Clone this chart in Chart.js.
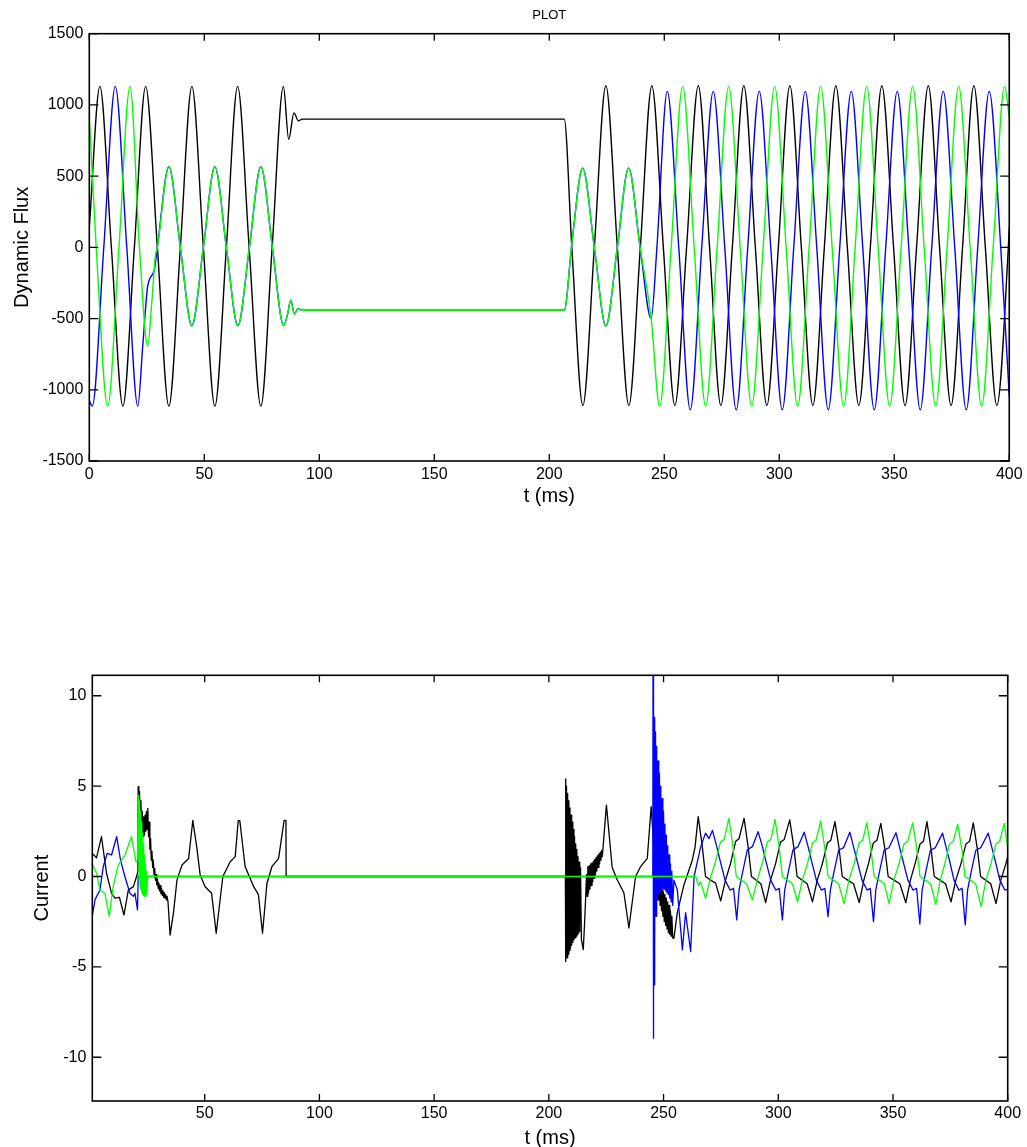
<!DOCTYPE html>
<html><head><meta charset="utf-8">
<script src="https://cdn.jsdelivr.net/npm/chart.js@4/dist/chart.umd.min.js"></script>
<style>
html,body{margin:0;padding:0;background:#fff;}
body{width:1027px;height:1147px;position:relative;overflow:hidden;}
canvas{position:absolute;left:0;}
#flux{top:0;}
#cur{top:640px;}
</style></head><body>
<canvas id="flux" width="1027" height="520" style="width:1027px;height:520px"></canvas>
<canvas id="cur" width="1027" height="512" style="width:1027px;height:512px"></canvas>
<script>
// ---------- texts & ticks ----------
const fluxTitle = 'PLOT';
const fluxYLabel = 'Dynamic Flux';
const curYLabel = 'Current';
const timeLabel = 't (ms)';
const fluxXTicks = [0, 50, 100, 150, 200, 250, 300, 350, 400];
const fluxYTicks = [-1500, -1000, -500, 0, 500, 1000, 1500];
const curXTicks = [50, 100, 150, 200, 250, 300, 350, 400];
const curYTicks = [-10, -5, 0, 5, 10];

// ---------- Dynamic flux (t ms, value) ----------
const fluxBlack = [
[0,140],[4.6,1130],[9.6,0],[14.6,-1115],[19.6,0],[24.5,1130],[29.6,0],[34.6,-1115],[39.6,0],[44.6,1130],[49.6,0],[54.6,-1115],[59.6,0],[64.5,1130],[69.5,0],[74.6,-1115],[79.5,0],[84.4,1130],[86.7,758],[89.0,944],[90.9,888],[92.6,900],[206.5,900],[209.8,0],[214.6,-1110],[219.6,0],[224.6,1135],[229.6,0],[234.6,-1110],[239.6,0],[244.6,1135],[249.6,0],[254.6,-1110],[259.7,0],[264.8,1135],[269.7,0],[274.6,-1110],[279.6,0],[284.6,1135],[289.6,0],[294.6,-1110],[299.6,0],[304.6,1135],[309.6,0],[314.6,-1110],[319.6,0],[324.6,1135],[329.6,0],[334.6,-1110],[339.6,0],[344.6,1135],[349.7,0],[354.7,-1110],[359.7,0],[364.8,1135],[369.7,0],[374.7,-1110],[379.7,0],[384.6,1135],[389.6,0],[394.6,-1110],[399.6,0],[400,140]
];
const fluxBlueStart = [
[0,-1075],[1.3,-1115],[6.3,0],[11.3,1130],[16.3,0],[21.1,-1115],[23.2,-700],[25.4,-273],[28.3,-157]
];
const fluxGreenStart = [
[0,915],[3.0,0],[8.0,-1115],[12.9,0],[17.7,1130],[21.8,0],[25.4,-692],[27.2,-380],[28.7,-63]
];
const fluxBlueGreenShared = [
[29.6,0],[34.6,567],[39.6,0],[44.6,-550],[49.6,0],[54.6,567],[59.6,0],[64.6,-550],[69.6,0],[74.6,567],[79.6,0],[84.5,-550],[86.2,-470],[87.6,-371],[89.2,-468],[90.8,-430],[92.6,-442],[206.5,-442],[209.9,40],[214.5,558],[219.6,0],[224.6,-552],[229.6,0],[234.5,558],[239.5,0],[244.3,-500]
];
const fluxBlueEnd = [
[246.8,0],[251.3,1095],[256.3,0],[261.3,-1140],[266.3,0],[271.3,1095],[276.3,0],[281.3,-1140],[286.3,0],[291.3,1095],[296.3,0],[301.3,-1140],[306.3,0],[311.3,1095],[316.3,0],[321.3,-1140],[326.3,0],[331.3,1095],[336.3,0],[341.3,-1140],[346.3,0],[351.3,1095],[356.3,0],[361.3,-1140],[366.3,0],[371.3,1095],[376.3,0],[381.3,-1140],[386.3,0],[391.3,1095],[396.3,0],[400,-1045]
];
const fluxGreenEnd = [
[248.0,-1115],[253.0,0],[258.0,1130],[263.0,0],[268.0,-1115],[273.0,0],[278.0,1130],[283.0,0],[288.0,-1115],[293.0,0],[298.0,1130],[303.0,0],[308.0,-1115],[313.0,0],[318.0,1130],[323.0,0],[328.0,-1115],[333.0,0],[338.0,1130],[343.0,0],[348.0,-1115],[353.0,0],[358.0,1130],[363.0,0],[368.0,-1115],[373.0,0],[378.0,1130],[383.0,0],[388.0,-1115],[393.0,0],[398.0,1130],[400,915]
];

// ---------- Current (t ms, value) ----------
const curBlack = [
[1,1.28],[2.85,1.04],[5.0,2.2],[7.2,0.18],[9.4,-0.93],[10.9,-1.2],[12.8,-1.15],[14.8,-2.13],[16.7,-0.75],[18.9,-0.56],[20.3,0],[20.9,0.3],
[21.0,4.97],[21.3,2.5],[21.6,4.7],[21.9,2.4],[22.2,4.2],[22.5,2.3],[22.8,3.6],[23.1,2.2],[23.4,3.3],[23.7,2.3],[24.0,3.4],[24.3,2.5],[24.6,3.6],[24.9,2.6],[25.2,3.77],[25.5,2.2],[25.8,3.0],[26.1,1.5],[26.4,2.1],[26.7,0.9],[27.0,1.4],[27.3,0.5],[27.6,0.9],[27.9,0.1],[28.2,0.45],[28.5,-0.2],[28.8,0.1],[29.1,-0.45],[29.4,-0.15],[29.7,-0.65],[30.0,-0.35],[30.3,-0.8],[30.6,-0.5],[30.9,-0.95],[31.2,-0.65],[31.5,-1.05],[31.8,-0.8],[32.1,-1.15],[32.4,-0.9],[32.7,-1.2],[33.0,-1.0],[33.3,-1.3],[33.6,-1.1],[34.0,-1.4],
[34.9,-3.24],[36.4,-2.0],[37.9,-0.2],[40.1,0.64],[43.0,1.0],[44.8,3.1],[46.5,1.65],[48.0,0.1],[50.1,-0.55],[53.0,-0.93],[55.0,-3.14],[57.9,0],[61.1,0.82],[63.3,1.1],[64.6,3.09],[65.3,3.09],[67.6,0.55],[71.3,-0.55],[73.4,-1.0],[75.2,-3.14],[77.1,-0.4],[79.3,0.55],[82.2,1.0],[84.6,3.1],[85.4,3.1],[85.5,0],[207.2,0],
[207.25,5.4],[207.45,-4.7],[207.7,5.0],[207.95,-4.5],[208.2,4.6],[208.45,-4.3],[208.7,4.2],[208.95,-4.1],[209.2,3.8],[209.45,-3.95],[209.7,3.4],[209.95,-3.8],[210.2,3.0],[210.45,-3.65],[210.7,2.6],[210.95,-3.5],[211.2,2.2],[211.45,-3.4],[211.7,1.8],[211.95,-3.3],[212.2,1.5],[212.45,-3.2],[212.7,1.1],[212.95,-3.1],[213.2,0.8],[213.45,-3.05],[213.8,0.5],[214.2,-3.5],[215.0,-4.04],[215.6,-2.5],
[216.0,-1.3],[216.4,0.1],[216.7,-1.1],[217.0,0.54],[217.3,-0.9],[217.6,0.6],[217.9,-0.7],[218.2,0.7],[218.5,-0.5],[218.8,0.75],[219.1,-0.3],[219.4,0.85],[219.7,-0.1],[220.0,0.95],[220.3,0.1],[220.6,1.05],[220.9,0.3],[221.2,1.15],[221.5,0.5],[221.8,1.25],[222.1,0.7],[222.4,1.35],[222.7,0.9],[223.0,1.45],[223.3,1.1],
[225.1,3.95],[227.6,0.5],[229.8,-0.18],[232.7,-0.9],[234.9,-2.85],[237.8,0],[240.0,0.55],[242.9,1.0],[244.6,3.86],[246.0,1.2],[247.0,-0.3],
[247.3,-1.0],[247.6,-0.4],[247.9,-1.3],[248.2,-0.5],[248.5,-1.6],[248.8,-0.6],[249.1,-1.9],[249.4,-0.75],[249.7,-2.2],[250.0,-0.9],[250.3,-2.5],[250.6,-1.0],[250.9,-2.7],[251.2,-1.2],[251.5,-2.9],[251.8,-1.4],[252.1,-3.1],[252.4,-1.6],[252.7,-3.2],[253.0,-1.9],[253.3,-3.3],[253.6,-2.2],[254.0,-3.4],[254.5,-3.43],[256.0,-2.0],[257.5,-1.2],[258.8,-0.5],[260.4,0.1],[262.5,0.9],[263.7,1.6],
[265.1,3.31],[266.9,1.65],[268.3,0.0],[270.5,-0.2],[272.7,-0.37],[274.9,-1.35],[277.0,-0.2],[279.2,0.72],[281.4,1.93],[282.9,2.1],
[285.1,3.22],[286.9,1.6],[288.3,0.0],[290.3,-0.2],[292.4,-0.4],[294.5,-1.45],[296.6,-0.2],[298.8,0.7],[301.0,1.9],[302.6,2.05],
[305.0,3.13],[306.8,1.6],[308.2,0.0],[310.4,-0.2],[312.6,-0.4],[314.9,-1.4],[317.0,-0.2],[319.2,0.7],[321.4,1.85],[322.9,2.0],
[324.7,3.03],[326.5,1.55],[327.9,0.0],[330.3,-0.2],[332.8,-0.4],[335.3,-1.45],[337.3,-0.2],[339.3,0.7],[341.4,1.85],[343.0,2.0],
[344.7,2.94],[346.5,1.5],[347.9,0.0],[350.4,-0.2],[353.0,-0.4],[355.6,-1.45],[357.6,-0.2],[359.6,0.7],[361.8,1.8],[363.3,1.95],
[364.8,3.03],[366.6,1.5],[368.0,0.0],[370.4,-0.2],[372.9,-0.4],[375.3,-1.4],[377.4,-0.2],[379.6,0.7],[381.8,1.8],[383.4,1.95],
[385.0,2.97],[386.8,1.5],[388.2,0.0],[390.4,-0.2],[392.6,-0.4],[394.9,-1.5],[397.0,-0.2],[399.2,0.7],[400,1.1]
];
const curBlue = [
[1,-2.2],[2.2,-1.28],[4.3,-0.75],[5.8,0.55],[7.5,1.28],[9.4,1.19],[11.6,2.2],[13.3,0.92],[15.2,0],[17.4,-0.93],[18.9,-1.1],[19.6,-0.93],[20.7,-1.85],[21.0,0],[245.3,0],
[245.4,11.1],[245.55,-8.95],[245.7,9.6],[245.85,-6.0],[246.0,8.8],[246.25,-3.8],[246.5,8.0],[246.75,-2.2],[247.0,7.2],[247.3,-1.3],[247.6,6.4],[247.9,-1.0],[248.2,5.7],[248.5,-0.8],[248.8,5.0],[249.1,-0.7],[249.4,4.3],[249.7,-0.7],[250.0,3.6],[250.3,-0.7],[250.6,2.9],[250.9,-0.8],[251.2,2.3],[251.5,-0.9],[251.8,1.7],[252.1,-1.0],[252.4,1.2],[252.7,-1.2],[253.0,0.7],[253.3,-1.4],[253.6,0.3],[254.0,-1.6],[254.5,-0.2],
[256.0,-0.75],[258.2,-4.06],[259.6,-2.0],[261.8,-4.15],[263.3,0],[266.2,1.65],[268.3,2.4],[269.8,2.1],[271.3,2.55],[273.2,1.65],[274.6,0.9],[276.8,-0.2],[279.0,-0.75],[280.5,-0.66],[281.9,-2.4],
[282.9,-0.75],[284.4,0.2],[286.5,1.47],[288.7,1.65],[291.2,2.48],[293.1,1.65],[294.5,0.9],[296.7,-0.2],[298.9,-0.75],[300.4,-0.66],[301.8,-2.4],
[302.8,-0.75],[304.3,0.2],[306.4,1.47],[308.6,1.65],[311.3,2.45],[313.0,1.65],[314.4,0.9],[316.6,-0.2],[318.8,-0.75],[320.3,-0.66],[321.7,-2.22],
[322.7,-0.75],[324.2,0.2],[326.3,1.45],[328.5,1.6],[331.2,2.45],[332.9,1.6],[334.3,0.9],[336.5,-0.2],[338.7,-0.75],[340.1,-0.66],[341.5,-2.5],
[342.5,-0.75],[344.0,0.2],[346.1,1.45],[348.3,1.6],[351.3,2.42],[352.9,1.6],[354.3,0.9],[356.5,-0.2],[358.7,-0.75],[360.3,-0.66],[361.7,-2.63],
[362.7,-0.75],[364.2,0.2],[366.3,1.45],[368.5,1.6],[371.6,2.4],[373.2,1.6],[374.6,0.9],[376.6,-0.2],[378.7,-0.75],[380.1,-0.66],[381.5,-2.68],
[382.5,-0.75],[384.0,0.2],[386.1,1.45],[388.3,1.6],[391.5,2.4],[393.1,1.6],[394.5,0.9],[396.6,-0.2],[398.7,-0.75],[400,-0.7]
];
const curGreen = [
[1,0.69],[2.9,0.18],[4.3,-0.75],[6.5,-0.93],[8.4,-2.2],[10.1,-0.56],[12.3,0.64],[15.2,1.17],[18.1,2.2],[20.0,0.82],[20.7,0.9],
[21.2,4.5],[21.4,-0.2],[21.6,4.2],[21.8,-0.5],[22.0,3.6],[22.2,-0.7],[22.4,3.0],[22.6,-0.9],[22.8,2.4],[23.0,-1.0],[23.2,1.8],[23.4,-1.05],[23.6,1.2],[23.8,-1.1],[24.0,0.7],[24.2,-1.1],[24.5,0.3],[24.8,-1.0],[25.1,0],[264.0,0],
[265.2,-0.5],[266.2,-0.3],[268.3,-1.21],[270.4,-0.1],[272.6,0.8],[274.8,1.9],[276.4,2.05],[278.5,3.22],
[280.3,1.6],[281.7,0.0],[283.9,-0.2],[286.2,-0.4],[288.7,-1.3],[290.8,-0.2],[293.0,0.72],[295.2,1.9],[296.8,2.05],[298.6,3.16],
[300.4,1.6],[301.8,0.0],[304.0,-0.2],[306.2,-0.4],[308.4,-1.4],[310.5,-0.2],[312.7,0.7],[314.9,1.85],[316.5,2.0],[318.5,3.07],
[320.3,1.55],[321.7,0.0],[324.0,-0.2],[326.3,-0.4],[328.7,-1.5],[330.8,-0.2],[333.0,0.7],[335.2,1.85],[336.8,2.0],[338.6,2.97],
[340.4,1.5],[341.8,0.0],[344.0,-0.2],[346.2,-0.4],[348.3,-1.5],[350.4,-0.2],[352.6,0.7],[354.8,1.8],[356.4,1.95],[358.6,2.97],
[360.4,1.5],[361.8,0.0],[364.1,-0.2],[366.4,-0.4],[368.7,-1.55],[370.6,-0.2],[372.6,0.7],[374.6,1.8],[376.3,1.95],[378.2,2.9],
[380.0,1.5],[381.4,0.0],[383.7,-0.2],[386.0,-0.4],[388.4,-1.67],[390.5,-0.2],[392.7,0.7],[394.9,1.8],[396.5,1.95],[398.5,2.94],[400,1.6]
];

// ---------- styling ----------
const FONT = "'Liberation Sans', Arial, Helvetica, sans-serif";
const BLACK = '#000000', BLUE = '#0000ff', GREEN = '#00ff00';

const fluxBlue = [...fluxBlueStart, ...fluxBlueGreenShared, ...fluxBlueEnd];
const fluxGreen = [...fluxGreenStart, ...fluxBlueGreenShared, ...fluxGreenEnd];
const toXY = arr => arr.map(p => ({x: p[0], y: p[1]}));

const frameTicks = {
  id: 'frameTicks',
  afterDatasetsDraw(chart) {
    const {ctx, chartArea: a} = chart;
    const xs = chart.scales.x, ys = chart.scales.y;
    ctx.save();
    ctx.strokeStyle = '#000';
    ctx.lineWidth = 1.3;
    ctx.beginPath();
    xs.ticks.forEach(t => {
      const p = xs.getPixelForValue(t.value);
      ctx.moveTo(p, a.bottom); ctx.lineTo(p, a.bottom - 7);
      ctx.moveTo(p, a.top); ctx.lineTo(p, a.top + 7);
    });
    ys.ticks.forEach(t => {
      const p = ys.getPixelForValue(t.value);
      ctx.moveTo(a.left, p); ctx.lineTo(a.left + 9, p);
      ctx.moveTo(a.right, p); ctx.lineTo(a.right - 9, p);
    });
    ctx.stroke();
    ctx.lineWidth = 1.6;
    ctx.strokeRect(a.left, a.top, a.right - a.left, a.bottom - a.top);
    ctx.restore();
  }
};

function makeChart(id, g) {
  const tickFont = {family: FONT, size: 16};
  const titleFont = {family: FONT, size: 20};
  return new Chart(document.getElementById(id), {
    type: 'line',
    data: {datasets: g.series.map(s => ({
      label: s.label, data: toXY(s.data), borderColor: s.color, backgroundColor: s.color,
      borderWidth: g.lw, pointRadius: 0, fill: false, borderJoinStyle: 'round',
      cubicInterpolationMode: g.smooth ? 'monotone' : 'default', tension: 0
    }))},
    options: {
      responsive: false, animation: false, devicePixelRatio: 1,
      layout: {padding: {left: 0, right: g.padRight, top: 0, bottom: 0}},
      plugins: {legend: {display: false}, tooltip: {enabled: false}, title: {display: false}},
      scales: {
        x: {
          type: 'linear', position: 'bottom', min: g.xMin, max: g.xMax,
          grid: {display: false, drawTicks: false}, border: {display: false},
          ticks: {padding: g.xTickPad, font: tickFont, color: '#000', maxRotation: 0, autoSkip: false, callback: v => String(v)},
          afterBuildTicks: s => { s.ticks = g.xTicks.map(v => ({value: v})); },
          afterFit: s => { s.height = g.xAxisH; },
          title: {display: true, text: timeLabel, font: titleFont, color: '#000', padding: {top: 0, bottom: g.xTitlePad}}
        },
        x2: {
          type: 'linear', position: 'top', min: g.xMin, max: g.xMax,
          grid: {display: false, drawTicks: false}, border: {display: false},
          ticks: {display: false},
          afterFit: s => { s.height = g.topH; },
          title: {display: !!g.title, text: g.title || '', font: {family: FONT, size: 13}, color: '#000', padding: {top: 7.2, bottom: 0}}
        },
        y: {
          type: 'linear', position: 'left', min: g.yMin, max: g.yMax,
          grid: {display: false, drawTicks: false}, border: {display: false},
          ticks: {padding: 6, font: tickFont, color: '#000', autoSkip: false, callback: v => String(v)},
          afterBuildTicks: s => { s.ticks = g.yTicks.map(v => ({value: v})); },
          afterFit: s => { s.width = g.yAxisW; },
          title: {display: true, text: g.yLabel, font: titleFont, color: '#000', padding: {top: g.yTitlePad, bottom: 0}}
        }
      }
    },
    plugins: [frameTicks]
  });
}

makeChart('flux', {
  series: [
    {label: 'phase C', data: fluxGreen, color: GREEN},
    {label: 'phase B', data: fluxBlue, color: BLUE},
    {label: 'phase A', data: fluxBlack, color: BLACK}
  ],
  lw: 1.4, smooth: true,
  xMin: 0, xMax: 400, yMin: -1500, yMax: 1500,
  xTicks: fluxXTicks, yTicks: fluxYTicks,
  padRight: 17.7, xAxisH: 59, topH: 33.7, yAxisW: 89.3,
  xTickPad: 4.4, xTitlePad: 12, yTitlePad: 10,
  title: fluxTitle, yLabel: fluxYLabel
});

makeChart('cur', {
  series: [
    {label: 'phase C', data: curGreen, color: GREEN},
    {label: 'phase B', data: curBlue, color: BLUE},
    {label: 'phase A', data: curBlack, color: BLACK}
  ],
  lw: 1.3, smooth: false,
  xMin: 1, xMax: 400, yMin: -12.42, yMax: 11.13,
  xTicks: curXTicks, yTicks: curYTicks,
  padRight: 19.3, xAxisH: 51, topH: 35.3, yAxisW: 92.3,
  xTickPad: 3.1, xTitlePad: 2, yTitlePad: 30,
  title: null, yLabel: curYLabel
});
</script>
</body></html>
